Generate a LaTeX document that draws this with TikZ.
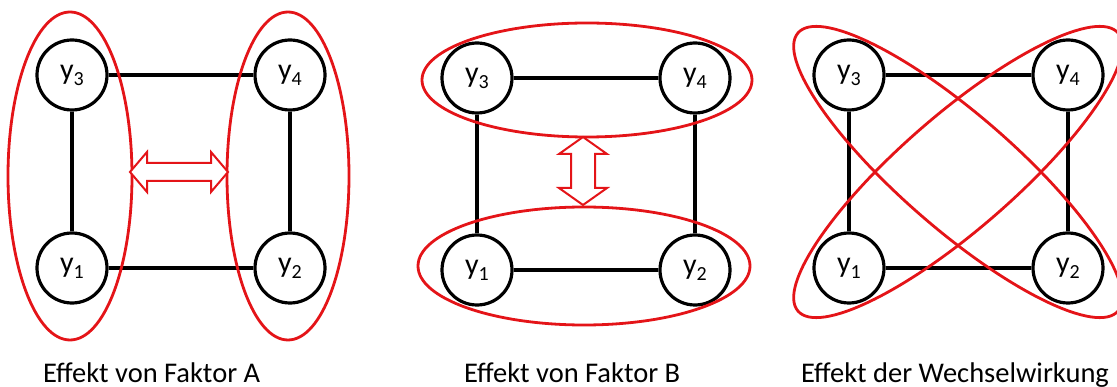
\documentclass[tikz,border=0pt]{standalone}
\usepackage{fontspec}
\setmainfont{Carlito}
\definecolor{myred}{RGB}{228,20,24}
\tikzset{
  yn/.style={circle, draw=black, line width=3.2pt, fill=white, minimum size=70pt, inner sep=0pt, font=\fontsize{30}{32}\selectfont},
  edge/.style={draw=black, line width=3.2pt},
  redline/.style={draw=myred, line width=2.8pt},
  redarrow/.style={draw=myred, line width=2pt, fill=white, line join=miter},
  captext/.style={anchor=base west, inner sep=0pt, font=\fontsize{28.5}{32}\selectfont}
}
\newcommand{\yy}[1]{y\raisebox{-0.2em}{\fontsize{20}{22}\selectfont #1}}
\begin{document}
\begin{tikzpicture}[x=1pt,y=-1pt]
\useasboundingbox (0,0) rectangle (1117,387);
% ---------- left panel ----------
\node[yn] (L3) at (72,75) {\yy{3}};
\node[yn] (L4) at (290,75) {\yy{4}};
\node[yn] (L1) at (72,268) {\yy{1}};
\node[yn] (L2) at (290,268) {\yy{2}};
\draw[edge] (L3) -- (L4);
\draw[edge] (L1) -- (L2);
\draw[edge] (L3) -- (L1);
\draw[edge] (L4) -- (L2);
\draw[redline] (70,176) ellipse [x radius=62, y radius=164];
\draw[redline] (288,176) ellipse [x radius=61, y radius=164];
\begin{scope}[shift={(179,172)}]
\draw[redarrow] (-49,0) -- (-32,-20) -- (-32,-9) -- (32,-9) -- (32,-20) -- (49,0) -- (32,20) -- (32,9) -- (-32,9) -- (-32,20) -- cycle;
\end{scope}
% ---------- middle panel ----------
\node[yn] (M3) at (477,78) {\yy{3}};
\node[yn] (M4) at (695,78) {\yy{4}};
\node[yn] (M1) at (477,270) {\yy{1}};
\node[yn] (M2) at (695,270) {\yy{2}};
\draw[edge] (M3) -- (M4);
\draw[edge] (M1) -- (M2);
\draw[edge] (M3) -- (M1);
\draw[edge] (M4) -- (M2);
\draw[redline] (587,80) ellipse [x radius=165, y radius=57];
\draw[redline] (584,266) ellipse [x radius=166, y radius=59];
\begin{scope}[shift={(583,171)}]
\draw[redarrow] (0,-34) -- (-24,-17) -- (-12,-17) -- (-12,17) -- (-24,17) -- (0,34) -- (24,17) -- (12,17) -- (12,-17) -- (24,-17) -- cycle;
\end{scope}
% ---------- right panel ----------
\node[yn] (R3) at (849,75) {\yy{3}};
\node[yn] (R4) at (1068,75) {\yy{4}};
\node[yn] (R1) at (849,268) {\yy{1}};
\node[yn] (R2) at (1068,268) {\yy{2}};
\draw[edge] (R3) -- (R4);
\draw[edge] (R1) -- (R2);
\draw[edge] (R3) -- (R1);
\draw[edge] (R4) -- (R2);
\draw[redline, rotate around={-41:(958,172)}] (958,172) ellipse [x radius=212, y radius=57];
\draw[redline, rotate around={41:(958,172)}] (958,172) ellipse [x radius=212, y radius=57];
% ---------- captions ----------
\node[captext] (cA) at (43,382) {Effekt von Faktor A};
\node[captext] (cB) at (464,382) {Effekt von Faktor B};
\node[captext] (cW) at (801,382) {Effekt der Wechselwirkung};
\end{tikzpicture}
\end{document}
